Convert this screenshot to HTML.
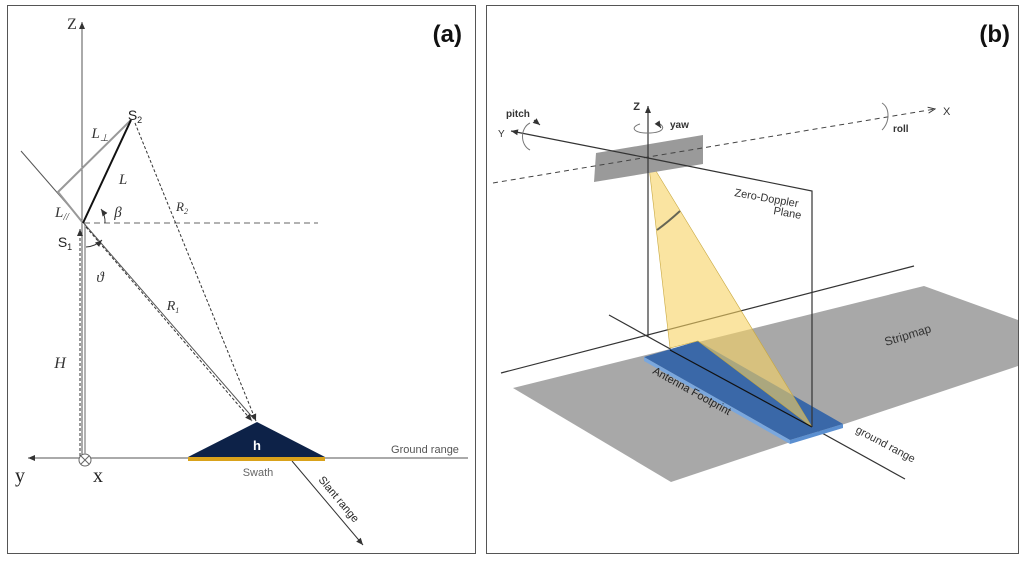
<!DOCTYPE html>
<html><head><meta charset="utf-8"><style>
html,body{margin:0;padding:0;background:#fff;}
svg{display:block;font-family:"Liberation Sans",sans-serif;}
</style></head><body>
<svg width="1024" height="562" viewBox="0 0 1024 562" xmlns="http://www.w3.org/2000/svg">
<defs>
<marker id="ar" markerWidth="8" markerHeight="8" refX="7" refY="4" orient="auto" markerUnits="userSpaceOnUse"><path d="M0,1 L7,4 L0,7 z" fill="#333"/></marker>
<marker id="ao" markerWidth="8" markerHeight="8" refX="7" refY="4" orient="auto" markerUnits="userSpaceOnUse"><path d="M0,1 L7,4 L0,7" fill="none" stroke="#333" stroke-width="1"/></marker>
</defs>
<rect x="0" y="0" width="1024" height="562" fill="#fff"/>
<!-- Panel a -->
<rect x="7.5" y="5.5" width="468" height="548" fill="#fff" stroke="#555" stroke-width="1"/>
<text x="462" y="42" font-size="24" font-weight="bold" text-anchor="end" fill="#111">(a)</text>
<line x1="82" y1="458" x2="82" y2="22" stroke="#555" stroke-width="1" marker-end="url(#ar)"/>
<text x="72" y="29" font-family="Liberation Serif,serif" font-size="16" text-anchor="middle" fill="#333">Z</text>
<line x1="468" y1="458" x2="28" y2="458" stroke="#555" stroke-width="1" marker-end="url(#ar)"/>
<text x="20" y="482" font-family="Liberation Serif,serif" font-size="20" text-anchor="middle" fill="#222">y</text>
<text x="98" y="482" font-family="Liberation Serif,serif" font-size="20" text-anchor="middle" fill="#222">x</text>
<circle cx="85" cy="460" r="6" fill="#fff" stroke="#666"/>
<line x1="81" y1="456" x2="89" y2="464" stroke="#666"/><line x1="89" y1="456" x2="81" y2="464" stroke="#666"/>
<line x1="85" y1="224" x2="85" y2="454" stroke="#999" stroke-width="1.5"/>
<line x1="80" y1="456" x2="80" y2="229" stroke="#333" stroke-width="1" stroke-dasharray="3,2" marker-end="url(#ar)"/>
<line x1="21" y1="151" x2="254" y2="419" stroke="#555" stroke-width="1"/>
<line x1="292" y1="461" x2="363" y2="545" stroke="#333" stroke-width="1" marker-end="url(#ar)"/>
<line x1="84" y1="223" x2="318" y2="223" stroke="#666" stroke-width="1" stroke-dasharray="6,4"/>
<line x1="86" y1="227" x2="252" y2="421" stroke="#333" stroke-width="1" stroke-dasharray="3,2" marker-end="url(#ar)"/>
<line x1="135" y1="123" x2="256" y2="421" stroke="#333" stroke-width="1" stroke-dasharray="3,2" marker-end="url(#ar)"/>
<rect x="188" y="457" width="137" height="4" fill="#d9a21b"/>
<polygon points="188,457 257,422 325,457" fill="#0d2248"/>
<text x="257" y="450" font-size="13" font-weight="bold" fill="#fff" text-anchor="middle">h</text>
<text x="258" y="476" font-size="11" fill="#666" text-anchor="middle">Swath</text>
<text x="425" y="453" font-size="11" fill="#555" text-anchor="middle">Ground range</text>
<text transform="translate(318,480) rotate(50)" font-size="11" fill="#222">Slant range</text>
<polyline points="131,120 58,192 83,223" fill="none" stroke="#999" stroke-width="2"/>
<line x1="83" y1="223" x2="131" y2="120" stroke="#111" stroke-width="2"/>
<path d="M105,223 A22,22 0 0 0 101,209" fill="none" stroke="#333" marker-end="url(#ar)"/>
<path d="M86,247 A25,25 0 0 0 102,240" fill="none" stroke="#333" marker-end="url(#ar)"/>
<g font-family="Liberation Serif,serif" font-style="italic" fill="#333" font-size="15">
<text x="100" y="138" text-anchor="middle">L<tspan font-size="10" dy="3">⊥</tspan></text>
<text x="123" y="184" text-anchor="middle">L</text>
<text x="62" y="217" text-anchor="middle">L<tspan font-size="10" dy="3">//</tspan></text>
<text x="118" y="217" text-anchor="middle">β</text>
<text x="182" y="211" text-anchor="middle" font-size="13">R<tspan font-size="8" dy="3">2</tspan></text>
<text x="100" y="282" text-anchor="middle">ϑ</text>
<text x="173" y="310" text-anchor="middle" font-size="14">R<tspan font-size="8" dy="3">1</tspan></text>
<text x="60" y="368" text-anchor="middle" font-size="16">H</text>
</g>
<text x="135" y="120" font-size="14" fill="#222" text-anchor="middle">S<tspan font-size="9" dy="3">2</tspan></text>
<text x="65" y="247" font-size="14" fill="#222" text-anchor="middle">S<tspan font-size="9" dy="3">1</tspan></text>

<!-- Panel b -->
<rect x="486.5" y="5.5" width="532" height="548" fill="#fff" stroke="#555" stroke-width="1"/>
<text x="1010" y="42" font-size="24" font-weight="bold" text-anchor="end" fill="#111">(b)</text>
<polygon points="513,388 924,286 1018,320 1018,366 671,482" fill="#a8a8a8"/>
<text transform="translate(886,346) rotate(-17)" font-size="12" fill="#333">Stripmap</text>
<line x1="501" y1="373" x2="914" y2="266" stroke="#333" stroke-width="1.2"/>
<line x1="609" y1="315" x2="905" y2="479" stroke="#333" stroke-width="1.2"/>
<polygon points="644,357 698,341 843,424 790,440" fill="#3a68a8"/>
<polygon points="644,357 790,440 790,444 644,361" fill="#7aa7dd"/>
<polygon points="790,440 843,424 843,428 790,444" fill="#5b8fd0"/>
<polygon points="648,158 670,348 698,341 812,427" fill="#f6d262" fill-opacity="0.6" stroke="#c8a840" stroke-width="0.6"/>
<path d="M657,230 Q668,222 680,211" fill="none" stroke="#665" stroke-width="2"/>
<line x1="670" y1="350" x2="812" y2="427" stroke="#111" stroke-width="1.2"/>
<polygon points="596,153 703,135 703,164 594,182" fill="#9a9a9a"/>
<line x1="493" y1="183" x2="935" y2="109" stroke="#444" stroke-width="1" stroke-dasharray="5,4" marker-end="url(#ao)"/>
<text x="943" y="115" font-size="11" fill="#333">X</text>
<polyline points="812,427 812,191 648,158" fill="none" stroke="#333" stroke-width="1.2"/>
<line x1="648" y1="158" x2="511" y2="131" stroke="#333" stroke-width="1.2" marker-end="url(#ar)"/>
<text x="498" y="137" font-size="10" fill="#333">Y</text>
<line x1="648" y1="337" x2="648" y2="106" stroke="#333" stroke-width="1.2" marker-end="url(#ar)"/>
<text x="640" y="110" font-size="11" font-weight="bold" fill="#333" text-anchor="end">Z</text>
<path d="M530,123 C520,128 520,145 530,150" fill="none" stroke="#777"/>
<path d="M534,120 L540,125" stroke="#333" marker-end="url(#ar)"/>
<text x="506" y="117" font-size="10" font-weight="bold" fill="#333">pitch</text>
<path d="M640,124 C630,127 633,133 648,133 C662,133 666,128 660,124" fill="none" stroke="#777"/>
<path d="M659,125 L661,128" stroke="#333" marker-end="url(#ar)"/>
<text x="670" y="128" font-size="10" font-weight="bold" fill="#333">yaw</text>
<path d="M882,103 C890,108 890,122 882,130" fill="none" stroke="#777"/>
<text x="893" y="132" font-size="10" font-weight="bold" fill="#333">roll</text>
<text transform="translate(734,196) rotate(10)" font-size="11" fill="#333">Zero-Doppler</text>
<text transform="translate(773,214) rotate(10)" font-size="11" fill="#333">Plane</text>
<text transform="translate(652,373) rotate(29)" font-size="11" fill="#222">Antenna Footprint</text>
<text transform="translate(855,432) rotate(28)" font-size="11" fill="#333">ground  range</text>
</svg>
</body></html>
